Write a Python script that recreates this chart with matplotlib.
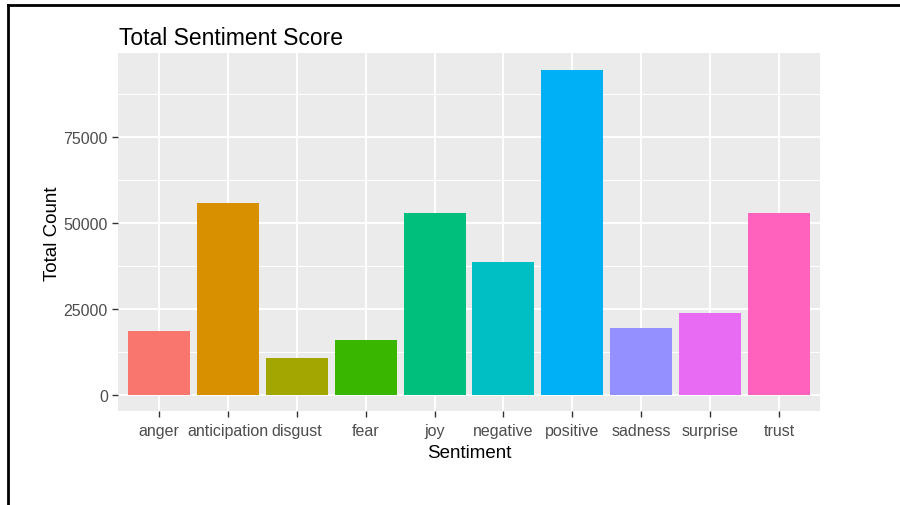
import numpy as np
import matplotlib
matplotlib.use('Agg')
import matplotlib.pyplot as plt
from matplotlib.lines import Line2D

plt.rcParams['font.family'] = ['Liberation Sans', 'DejaVu Sans']

sentiments = ['anger', 'anticipation', 'disgust', 'fear', 'joy',
              'negative', 'positive', 'sadness', 'surprise', 'trust']
counts = [18500, 55800, 10750, 16000, 53100,
          38750, 94750, 19550, 24000, 53100]
# ggplot default hue palette for 10 levels
colors = ['#F8766D', '#D89000', '#A3A500', '#39B600', '#00BF7D',
          '#00BFC4', '#00B0F6', '#9590FF', '#E76BF3', '#FF62BC']
yticks = [0, 25000, 50000, 75000]

fig = plt.figure(figsize=(9, 5.06), dpi=100)
ax = fig.add_axes([0.1308, 0.1852, 0.7807, 0.7075])

x = np.arange(len(sentiments))
ax.bar(x, counts, width=0.9, color=colors, zorder=3)

ymax = max(counts)
ax.set_xlim(-0.6, len(sentiments) - 0.4)
ax.set_ylim(-0.05 * ymax, 1.05 * ymax)

ax.set_facecolor('#EBEBEB')
for s in ax.spines.values():
    s.set_visible(False)

ax.set_yticks(yticks)
ax.set_yticklabels([str(v) for v in yticks])
ax.set_yticks([12500, 37500, 62500, 87500], minor=True)
ax.set_xticks(x)
ax.set_xticklabels(sentiments)
ax.grid(which='major', color='white', linewidth=1.4, zorder=0)
ax.grid(which='minor', axis='y', color='white', linewidth=0.7, zorder=0)
ax.set_axisbelow(True)
ax.tick_params(axis='both', which='major', length=4, width=1, color='#333333',
               labelcolor='#4D4D4D', labelsize=11.5, pad=3)
ax.tick_params(axis='x', which='major', pad=4.5)
ax.tick_params(axis='y', which='minor', length=0)

ax.set_xlabel('Sentiment', fontsize=13.5, color='black', labelpad=4)
ax.set_ylabel('Total Count', fontsize=13.5, color='black', labelpad=2)
fig.text(0.1322, 0.911, 'Total Sentiment Score', fontsize=16.5,
         color='black', ha='left', va='baseline')

# outer frame of the screenshot
fig.add_artist(Line2D([8 / 900, 1.0], [1 - 6 / 506, 1 - 6 / 506],
                      transform=fig.transFigure, color='black', linewidth=2))
fig.add_artist(Line2D([8 / 900, 8 / 900], [0, 1 - 6 / 506],
                      transform=fig.transFigure, color='black', linewidth=2))

fig.savefig('out.png', dpi=100)
